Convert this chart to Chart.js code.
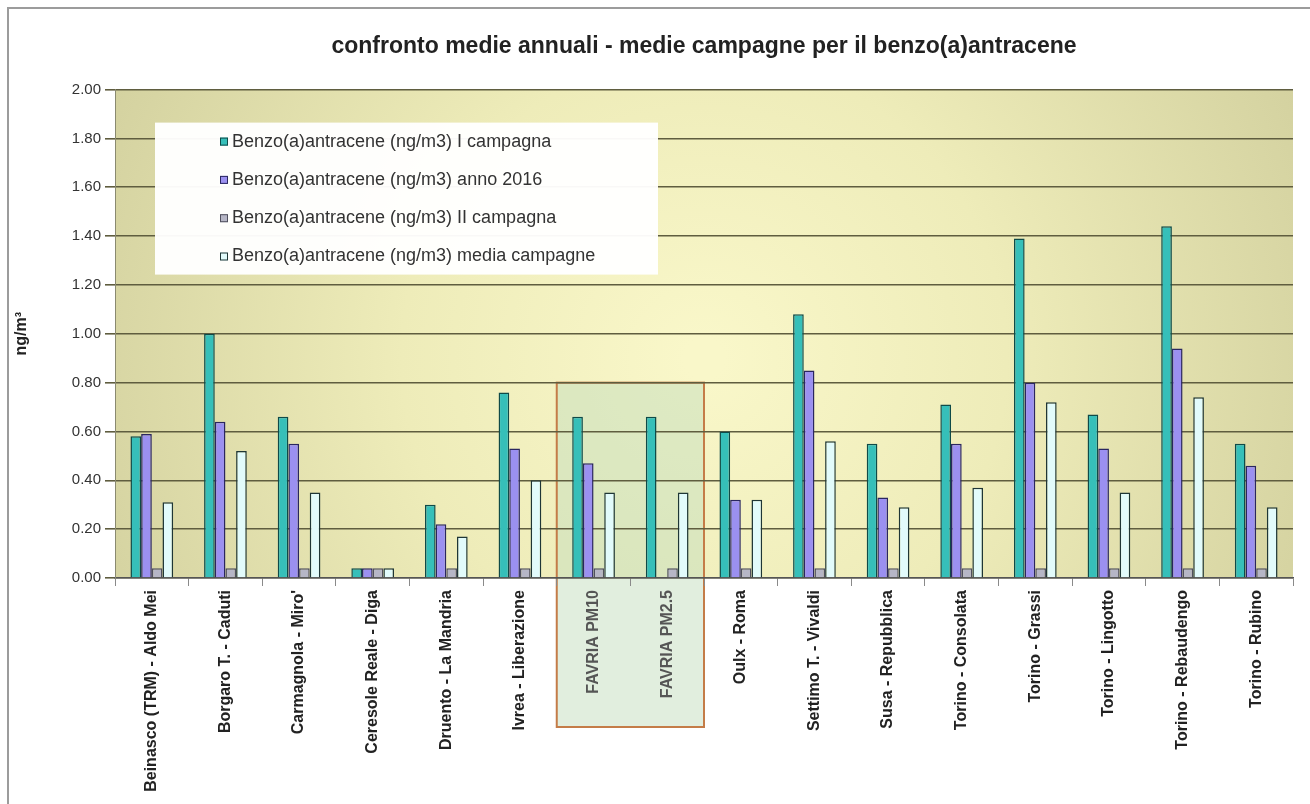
<!DOCTYPE html>
<html>
<head>
<meta charset="utf-8">
<script src="https://cdn.jsdelivr.net/npm/chart.js@4.4.0/dist/chart.umd.min.js"></script>
<style>
    html, body { margin: 0; padding: 0; background: #fff; }
    #wrap { width: 1310px; height: 804px; position: relative; }
</style>
</head>
<body>
<div id="wrap"><canvas id="chart" width="1310" height="804"></canvas></div>
<script>
// stazioni
const stazioni = [
    "Beinasco (TRM) - Aldo Mei", "Borgaro T. - Caduti", "Carmagnola - Miro'", "Ceresole Reale - Diga",
    "Druento - La Mandria", "Ivrea - Liberazione", "FAVRIA PM10", "FAVRIA PM2.5",
    "Oulx - Roma", "Settimo T. - Vivaldi", "Susa - Repubblica", "Torino - Consolata",
    "Torino - Grassi", "Torino - Lingotto", "Torino - Rebaudengo", "Torino - Rubino"
];

// valori (ng/m3)
const primaCampagna = [0.58, 1.00, 0.66, 0.04, 0.30, 0.76, 0.66, 0.66, 0.60, 1.08, 0.55, 0.71, 1.39, 0.67, 1.44, 0.55];
const anno2016      = [0.59, 0.64, 0.55, 0.04, 0.22, 0.53, 0.47, null, 0.32, 0.85, 0.33, 0.55, 0.80, 0.53, 0.94, 0.46];
const secondaCampagna = [0.04, 0.04, 0.04, 0.04, 0.04, 0.04, 0.04, 0.04, 0.04, 0.04, 0.04, 0.04, 0.04, 0.04, 0.04, 0.04];
const mediaCampagne = [0.31, 0.52, 0.35, 0.04, 0.17, 0.40, 0.35, 0.35, 0.32, 0.56, 0.29, 0.37, 0.72, 0.35, 0.74, 0.29];

const yTicks = [0, 0.2, 0.4, 0.6, 0.8, 1.0, 1.2, 1.4, 1.6, 1.8, 2.0];

const favria = [6, 7]; // indici delle due colonne evidenziate

const FONT = "'Liberation Sans', Arial, sans-serif";

// sfondo, cornice, riquadro FAVRIA
const sfondoPlugin = {
    id: "sfondo",
    beforeDraw(chart) {
        const { ctx, chartArea: a, scales } = chart;
        ctx.save();
        ctx.fillStyle = "#ffffff";
        ctx.fillRect(0, 0, chart.width, chart.height);

        // cornice grigia
        ctx.strokeStyle = "#9c9c9c";
        ctx.lineWidth = 2;
        ctx.beginPath();
        ctx.moveTo(8, chart.height);
        ctx.lineTo(8, 8);
        ctx.lineTo(chart.width, 8);
        ctx.stroke();

        // gradiente area grafico
        const g = ctx.createRadialGradient(a.left + a.width * 0.5, a.top + a.height * 0.55, 20,
                                           a.left + a.width * 0.5, a.top + a.height * 0.55, a.width * 0.55);
        g.addColorStop(0, "#f9f7c9");
        g.addColorStop(0.45, "#eeecb9");
        g.addColorStop(1, "#d4d2a0");
        ctx.fillStyle = g;
        ctx.fillRect(a.left, a.top, a.width, a.height);

        // riquadro FAVRIA
        const x = scales.x, y = scales.y;
        const w = x.getPixelForValue(1) - x.getPixelForValue(0);
        const x0 = x.getPixelForValue(favria[0]) - w / 2;
        const x1 = x.getPixelForValue(favria[1]) + w / 2;
        const y0 = y.getPixelForValue(0.8);
        const y1 = chart.height - 77;
        ctx.fillStyle = "rgba(196, 222, 190, 0.5)";
        ctx.fillRect(x0, y0, x1 - x0, y1 - y0);
        ctx.strokeStyle = "#c47c48";
        ctx.lineWidth = 2;
        ctx.strokeRect(x0, y0, x1 - x0, y1 - y0);
        ctx.restore();
    }
};

// legenda dentro il grafico
const legendaPlugin = {
    id: "legenda",
    afterDraw(chart) {
        const { ctx, chartArea: a } = chart;
        const left = a.left + 40, top = a.top + 33;
        ctx.save();
        ctx.fillStyle = "rgba(255,255,255,0.96)";
        ctx.fillRect(left, top, 503, 152);
        ctx.font = "18px " + FONT;
        ctx.textBaseline = "middle";
        chart.data.datasets.forEach((ds, i) => {
            const yy = top + 19 + i * 38.3;
            ctx.fillStyle = ds.backgroundColor;
            ctx.fillRect(left + 65, yy - 4, 8, 8);
            ctx.strokeStyle = ds.borderColor;
            ctx.lineWidth = 1;
            ctx.strokeRect(left + 65.5, yy - 3.5, 7, 7);
            ctx.fillStyle = "#333";
            ctx.fillText(ds.label, left + 77, yy);
        });
        ctx.restore();
    }
};

const ctx = document.getElementById("chart").getContext("2d");

const chart = new Chart(ctx, {
    type: "bar",
    data: {
        labels: stazioni,
        datasets: [
            {
                label: "Benzo(a)antracene (ng/m3) I campagna",
                data: primaCampagna,
                backgroundColor: "#36bfb9",
                borderColor: "#0f4a48",
            },
            {
                label: "Benzo(a)antracene (ng/m3) anno 2016",
                data: anno2016,
                backgroundColor: "#9b90f0",
                borderColor: "#2a2660",
            },
            {
                label: "Benzo(a)antracene (ng/m3) II campagna",
                data: secondaCampagna,
                backgroundColor: "#b6b6c6",
                borderColor: "#50505e",
            },
            {
                label: "Benzo(a)antracene (ng/m3) media campagne",
                data: mediaCampagne,
                backgroundColor: "#e2fbfb",
                borderColor: "#1f3636",
            },
        ],
    },
    options: {
        responsive: false,
        animation: false,
        layout: { padding: { left: 10, right: 17, top: 10, bottom: 0 } },
        datasets: {
            bar: {
                borderWidth: 1.5,
                categoryPercentage: 0.58,
                barPercentage: 1.0,
                borderSkipped: "bottom",
            },
        },
        plugins: {
            legend: { display: false },
            tooltip: { enabled: false },
            title: {
                display: true,
                fullSize: false,
                text: "confronto medie annuali - medie campagne per il benzo(a)antracene",
                color: "#222",
                font: { family: FONT, size: 23, weight: "bold" },
                padding: { top: 23, bottom: 29 },
            },
        },
        scales: {
            x: {
                grid: {
                    display: true,
                    drawOnChartArea: false,
                    offset: true,
                    tickLength: 8,
                    color: "#8a8a8a",
                },
                border: { color: "#555", width: 1.5 },
                ticks: {
                    autoSkip: false,
                    minRotation: 90,
                    maxRotation: 90,
                    padding: 4,
                    color: (c) => favria.includes(c.index) ? "#555" : "#222",
                    font: { family: FONT, size: 16, weight: "bold" },
                },
                afterFit: (s) => { s.height = 226; },
            },
            y: {
                min: 0,
                max: 2,
                afterBuildTicks: (s) => { s.ticks = yTicks.map((v) => ({ value: v })); },
                grid: {
                    color: "#5f5d3f",
                    lineWidth: 1.6,
                    tickLength: 10,
                },
                border: { color: "#8a8a70", width: 1 },
                ticks: {
                    color: "#333",
                    padding: 4,
                    font: { family: FONT, size: 15 },
                    callback: (v) => v.toFixed(2),
                },
                title: {
                    display: true,
                    text: "ng/m³",
                    color: "#222",
                    padding: { top: 2, bottom: 0 },
                    font: { family: FONT, size: 16, weight: "bold" },
                },
                afterFit: (s) => { s.width = 105; },
            },
        },
    },
    plugins: [sfondoPlugin, legendaPlugin],
});
</script>
</body>
</html>
